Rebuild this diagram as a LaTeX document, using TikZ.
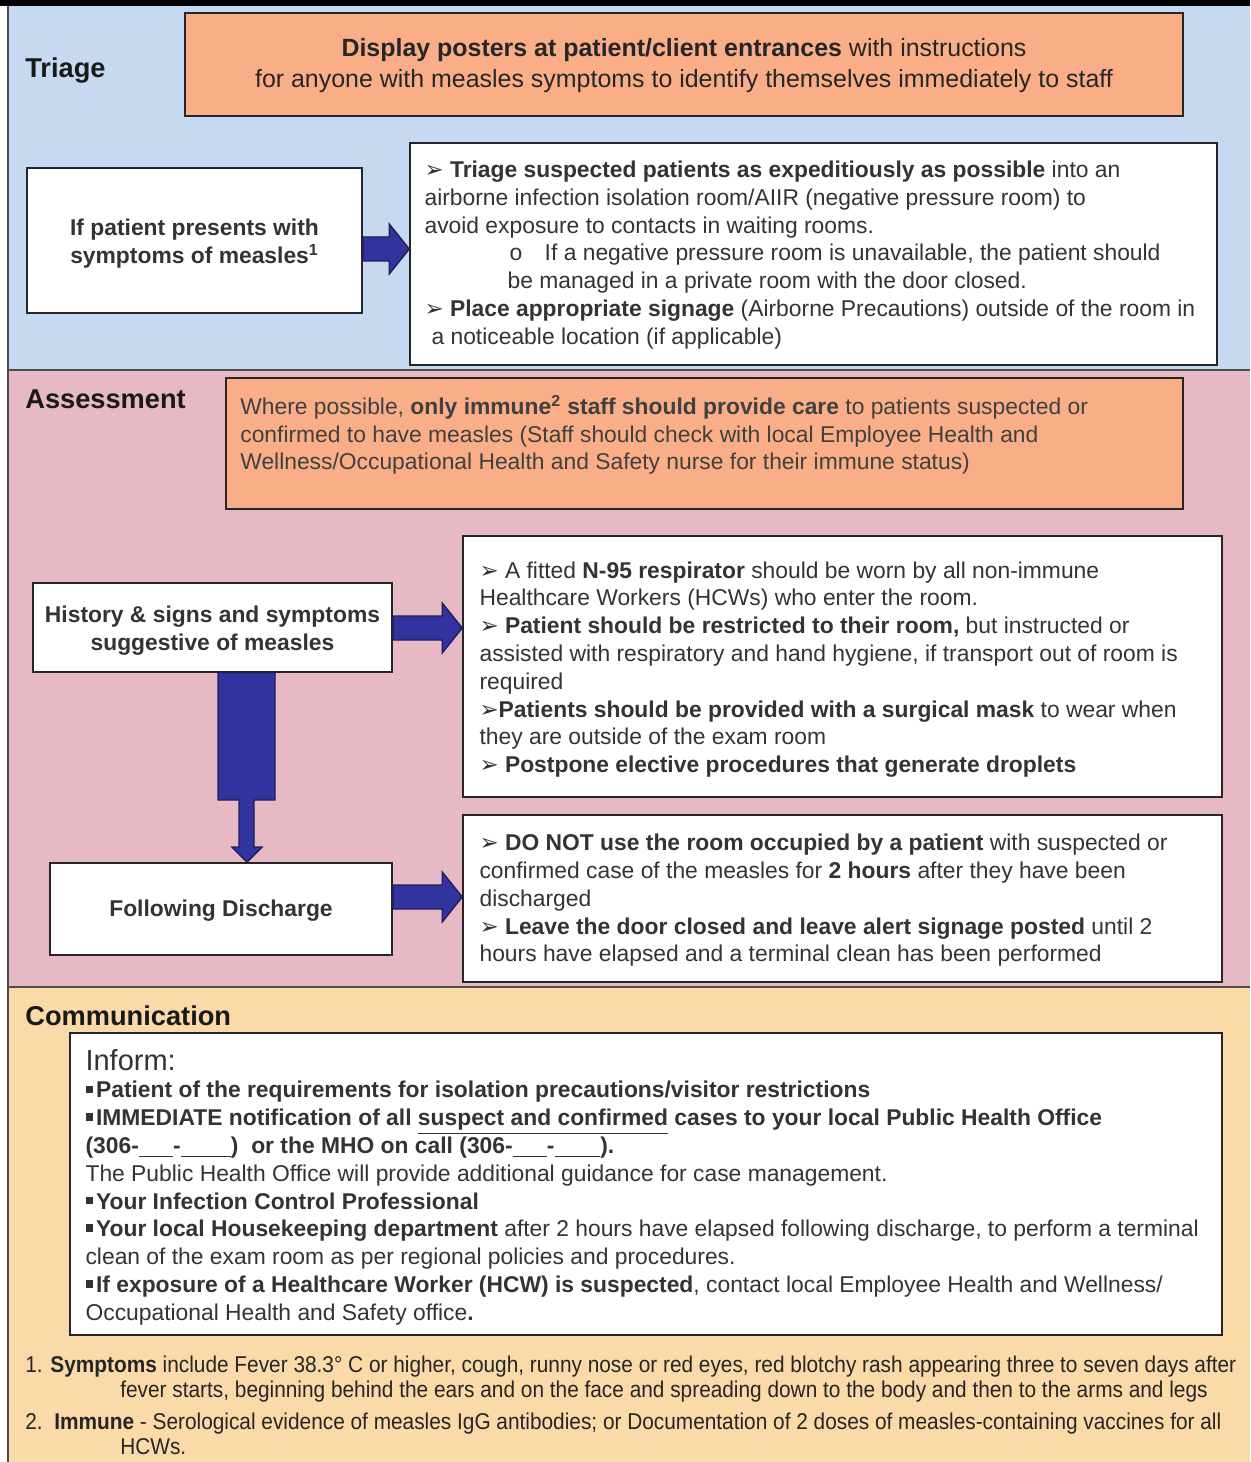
\documentclass[tikz,border=0pt]{standalone}
\usepackage{fontspec}
\setmainfont{Liberation Sans}
\newfontfamily\symfont{DejaVu Sans}
\newfontfamily\narrowfont[FakeStretch=0.912]{Liberation Sans}
\usetikzlibrary{calc,fit}

\definecolor{triageblue}{RGB}{198,217,241}
\definecolor{assesspink}{RGB}{230,185,196}
\definecolor{commtan}{RGB}{250,218,168}
\definecolor{posterorange}{RGB}{250,174,136}
\definecolor{arrowblue}{RGB}{51,51,160}
\definecolor{arrowedge}{RGB}{30,30,90}

\newcommand{\bodysize}{\fontsize{13}{15.8}\selectfont}
\newcommand{\pointer}{{\symfont ➢}}
\newcommand{\sqbullet}{\rule[0.2em]{0.34em}{0.34em}\hspace{0.12em}}
\newcommand{\blank}[1]{\underline{\hspace{#1}}}

% block arrow pointing right, from tail point to tip point
\newcommand{\blockright}[2]{%
  \draw[blockarrow] ($(#1)+(0,-12)$) -- ($(#2)+(-20,-12)$) -- ($(#2)+(-20,-25)$) -- (#2)
    -- ($(#2)+(-20,25)$) -- ($(#2)+(-20,12)$) -- ($(#1)+(0,12)$) -- cycle;}

\begin{document}
\begin{tikzpicture}[x=0.02cm, y=-0.02cm,
    box/.style={draw=black!85, line width=0.9pt, inner sep=0pt},
    whitebox/.style={box, fill=white},
    orangebox/.style={box, fill=posterorange},
    boxtitle/.style={align=center, inner sep=0pt, font=\bodysize\bfseries, text=black!80},
    txt/.style={align=left, inner sep=0pt, anchor=west, text=black!80, font=\bodysize},
    notes/.style={txt, text=black!85, font=\narrowfont\fontsize{13}{14.2}\selectfont},
    heading/.style={anchor=west, inner sep=0pt, text=black!90,
      font=\fontsize{15.5}{18}\selectfont\bfseries},
    blockarrow/.style={fill=arrowblue, draw=arrowedge, line width=0.8pt}]
  \useasboundingbox (0,0) rectangle (1250,1462);

  % bands
  \fill[black] (0,0) rectangle (1250,6);
  \fill[triageblue] (8,6) rectangle (1250,370);
  \fill[assesspink] (8,370) rectangle (1250,987);
  \fill[commtan] (8,987) rectangle (1250,1462);
  \draw[black!70, line width=0.8pt] (8,6) -- (8,1462) (8,370) -- (1250,370) (8,987) -- (1250,987);

  % triage
  \node[heading] (triagelabel) at (25,71) {Triage};
  \node[orangebox, fit={(185,13) (1183,116)}] (poster) {};
  \node[boxtitle, font=\fontsize{14.2}{17.6}\selectfont, text=black!85] (postertext)
    at ($(poster.center)+(0,1)$)
    {\textbf{Display posters at patient/client entrances} with instructions\\
     for anyone with measles symptoms to identify themselves immediately to staff};
  \node[whitebox, fit={(27,168) (362,313)}] (ifbox) {};
  \node[boxtitle] (iftext) at ($(ifbox.center)+(0,3)$)
    {If patient presents with\\symptoms of measles\textsuperscript{1}};
  \node[whitebox, fit={(410,143) (1217,365)}] (triagebox) {};
  \node[txt] (triagetext) at ($(triagebox.west)+(15,1)$)
    {\pointer\ \textbf{Triage suspected patients as expeditiously as possible} into an\\
     airborne infection isolation room/AIIR (negative pressure room) to\\
     avoid exposure to contacts in waiting rooms.\\
     \hspace*{1.7cm}o\hspace{0.45cm}If a negative pressure room is unavailable, the patient should\\
     \hspace*{1.66cm}be managed in a private room with the door closed.\\
     \pointer\ \textbf{Place appropriate signage} (Airborne Precautions) outside of the room in\\
     \hspace*{0.14cm}a noticeable location (if applicable)};
  \blockright{ifbox.east |- 0,249}{triagebox.west |- 0,249}

  % assessment
  \node[heading] (assesslabel) at (25,399) {Assessment};
  \node[orangebox, fit={(226,378) (1183,509)}] (immunebox) {};
  \node[txt, text=black!75] (immunetext) at (240,435)
    {Where possible, \textbf{only immune\textsuperscript{2} staff should provide care} to patients suspected or\\
     confirmed to have measles (Staff should check with local Employee Health and\\
     Wellness/Occupational Health and Safety nurse for their immune status)};
  \node[whitebox, fit={(33,583) (392,672)}] (historybox) {};
  \node[boxtitle] (historytext) at ($(historybox.center)+(0,3)$)
    {History \& signs and symptoms\\suggestive of measles};
  \node[whitebox, fit={(463,536) (1222,797)}] (n95box) {};
  \node[txt] (n95text) at ($(n95box.west)+(17,3)$)
    {\pointer\ A fitted \textbf{N-95 respirator} should be worn by all non-immune\\
     Healthcare Workers (HCWs) who enter the room.\\
     \pointer\ \textbf{Patient should be restricted to their room,} but instructed or\\
     assisted with respiratory and hand hygiene, if transport out of room is\\
     required\\
     \pointer\textbf{Patients should be provided with a surgical mask} to wear when\\
     they are outside of the exam room\\
     \pointer\ \textbf{Postpone elective procedures that generate droplets}};
  \node[whitebox, fit={(50,863) (392,955)}] (dischargebox) {};
  \node[boxtitle] (dischargetext) at ($(dischargebox.center)+(0,2)$) {Following Discharge};
  \node[whitebox, fit={(463,815) (1222,982)}] (donotbox) {};
  \node[txt] (donottext) at ($(donotbox.west)+(17,2)$)
    {\pointer\ \textbf{DO NOT use the room occupied by a patient} with suspected or\\
     confirmed case of the measles for \textbf{2 hours} after they have been\\
     discharged\\
     \pointer\ \textbf{Leave the door closed and leave alert signage posted} until 2\\
     hours have elapsed and a terminal clean has been performed};
  \blockright{historybox.east |- 0,628}{n95box.west |- 0,628}
  \blockright{dischargebox.east |- 0,897}{donotbox.west |- 0,897}
  \draw[blockarrow] (historybox.south -| 218,0) -- (218,800) -- (239,800) -- (239,847)
    -- (232,847) -- (dischargebox.north -| 247,0) -- (262,847) -- (254,847)
    -- (254,800) -- (275,800) -- (historybox.south -| 275,0) -- cycle;

  % communication
  \node[heading] (commlabel) at (25,1016) {Communication};
  \node[whitebox, fit={(70,1033) (1222,1335)}] (informbox) {};
  \node[txt] (informtext) at ($(informbox.west)+(16,3)$)
    {{\fontsize{16.5}{20}\selectfont Inform:}\\
     \sqbullet\textbf{Patient of the requirements for isolation precautions/visitor restrictions}\\
     \sqbullet\textbf{IMMEDIATE notification of all \underline{suspect and confirmed} cases to your local Public Health Office}\\
     \textbf{(306-\blank{1.5em}-\blank{2.2em})\ \ or the MHO on call (306-\blank{1.5em}-\blank{2em}).}\\
     The Public Health Office will provide additional guidance for case management.\\
     \sqbullet\textbf{Your Infection Control Professional}\\
     \sqbullet\textbf{Your local Housekeeping department} after 2 hours have elapsed following discharge, to perform a terminal\\
     clean of the exam room as per regional policies and procedures.\\
     \sqbullet\textbf{If exposure of a Healthcare Worker (HCW) is suspected}, contact local Employee Health and Wellness/\\
     Occupational Health and Safety office\textbf{.}};

  % footnotes
  \node[notes] (note1) at (25,1379)
    {1. \textbf{Symptoms} include Fever 38.3° C or higher, cough, runny nose or red eyes, red blotchy rash appearing three to seven days after\\
     \hspace*{1.9cm}fever starts, beginning behind the ears and on the face and spreading down to the body and then to the arms and legs};
  \node[notes] (note2) at (25,1434)
    {2.\ \ \textbf{Immune} - Serological evidence of measles IgG antibodies; or Documentation of 2 doses of measles-containing vaccines for all\\
     \hspace*{1.9cm}HCWs.};
\end{tikzpicture}
\end{document}
